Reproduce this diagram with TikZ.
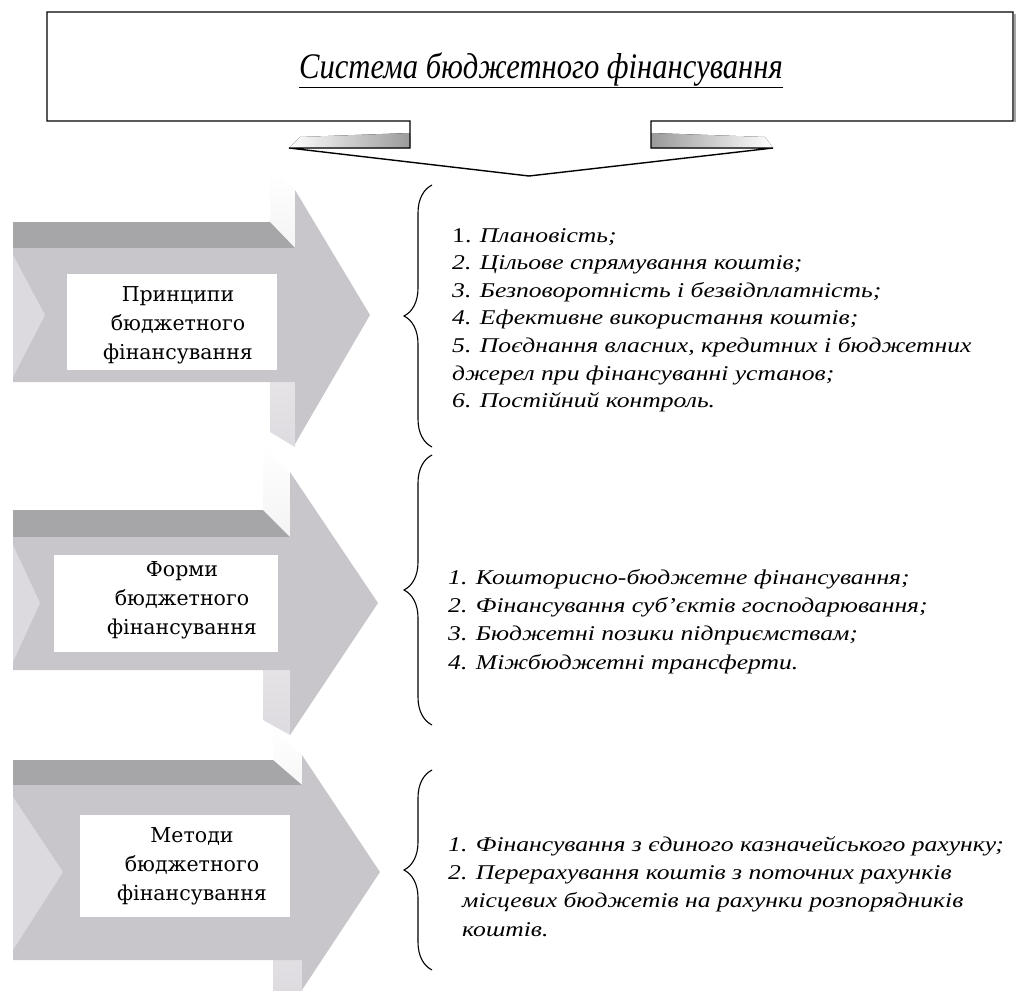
\documentclass[tikz,border=0pt]{standalone}
\usepackage{fontspec}
\setmainfont{Liberation Serif}
\newfontfamily\listfont[FakeStretch=1.22]{Liberation Serif}
\newfontfamily\labelfont{DejaVu Serif}
\newfontfamily\titlefont[FakeStretch=0.85]{Liberation Serif}
\usetikzlibrary{decorations.pathreplacing}
\definecolor{face}{HTML}{C8C6CA}
\definecolor{band}{HTML}{A6A5A8}
\definecolor{strip}{HTML}{DDDBDF}
\definecolor{notchc}{HTML}{DCDADE}
\definecolor{shade}{HTML}{9A9A9A}
\tikzset{
  facefill/.style={fill=face, draw=none},
  bandfill/.style={fill=band, draw=none},
  stripfill/.style={top color=white, bottom color=strip, draw=none},
  notchfill/.style={fill=notchc, draw=none},
  labelbox/.style={fill=white, draw=none},
  label/.style={font=\labelfont\fontsize{20.5}{29}\selectfont, align=center, inner sep=0pt},
  listtext/.style={font=\listfont\itshape\fontsize{21}{27.6}\selectfont, align=left, inner sep=0pt, anchor=north west},
  listtextb/.style={listtext, font=\listfont\itshape\fontsize{21}{28.3}\selectfont},
  bracestyle/.style={decorate, decoration={brace, amplitude=28pt, aspect=0.5}, line width=1.1pt},
}
\begin{document}
\begin{tikzpicture}[x=1pt,y=-1pt]
\useasboundingbox (0,0) rectangle (1018,991);
% ---- title callout ----
\fill[left color=white, right color=shade] (300,137) -- (410,133) -- (410,148) -- (289,148) -- cycle;
\fill[left color=shade, right color=white] (651,133) -- (765,137) -- (773,148) -- (651,148) -- cycle;
\draw[gray!70, line width=1.5pt] (1015,14) -- (1015,122);
\draw[line width=1.4pt, line join=miter] (47,12) -- (1013,12) -- (1013,121) -- (651,121) -- (651,148) -- (773,148) -- (529,176) -- (289,148) -- (410,148) -- (410,121) -- (47,121) -- cycle;
\node[font=\titlefont\itshape\fontsize{36}{40}\selectfont, inner sep=0pt] (title) at (541,70) {\underline{Система бюджетного фінансування}};
% ---- arrow 1 ----
\path[stripfill] (270,168) -- (295,190) -- (295,447) -- (270,432) -- cycle;
\path[bandfill] (13,222) -- (270,222) -- (295,248) -- (13,248) -- cycle;
\path[facefill] (13,248) -- (295,248) -- (295,190) -- (370,315) -- (295,444) -- (295,382) -- (13,382) -- cycle;
\path[notchfill] (13,255) -- (45,315) -- (13,377) -- cycle;
\path[labelbox] (67,274) rectangle (277,370);
\node[label] (a1) at (178,325) {Принципи\\бюджетного\\фінансування};
% ---- arrow 2 ----
\path[stripfill] (263,445) -- (290,472) -- (290,735) -- (263,720) -- cycle;
\path[bandfill] (13,510) -- (263,510) -- (290,537) -- (13,537) -- cycle;
\path[facefill] (13,537) -- (290,537) -- (290,472) -- (378,603) -- (290,735) -- (290,670) -- (13,670) -- cycle;
\path[notchfill] (13,545) -- (40,603) -- (13,662) -- cycle;
\path[labelbox] (54,555) rectangle (278,652);
\node[label] (a2) at (182,600) {Форми\\бюджетного\\фінансування};
% ---- arrow 3 ----
\path[stripfill] (273,727) -- (302,755) -- (302,991) -- (273,991) -- cycle;
\path[bandfill] (13,760) -- (273,760) -- (302,785) -- (13,785) -- cycle;
\path[facefill] (13,785) -- (302,785) -- (302,755) -- (380,872) -- (302,990) -- (302,960) -- (13,960) -- cycle;
\path[notchfill] (13,797) -- (63,872) -- (13,950) -- cycle;
\path[labelbox] (80,815) rectangle (290,917);
\node[label] (a3) at (192,866) {Методи\\бюджетного\\фінансування};
% ---- braces ----
\coordinate (b1s) at (432,447); \coordinate (b1e) at (432,185);
\coordinate (b2s) at (432,725); \coordinate (b2e) at (432,455);
\coordinate (b3s) at (432,970); \coordinate (b3e) at (432,770);
\draw[bracestyle] (b1s) -- (b1e);
\draw[bracestyle] (b2s) -- (b2e);
\draw[bracestyle] (b3s) -- (b3e);
% ---- lists ----
\node[listtext] (l1) at (452,228) {{\upshape 1.} Плановість;\\2. Цільове спрямування коштів;\\3. Безповоротність і безвідплатність;\\4. Ефективне використання коштів;\\5. Поєднання власних, кредитних і бюджетних\\джерел при фінансуванні установ;\\6. Постійний контроль.};
\node[listtextb] (l2) at (448,569) {1. Кошторисно-бюджетне фінансування;\\2. Фінансування суб’єктів господарювання;\\3. Бюджетні позики підприємствам;\\4. Міжбюджетні трансферти.};
\node[listtextb] (l3) at (448,836) {1. Фінансування з єдиного казначейського рахунку;\\2. Перерахування коштів з поточних рахунків\\\hspace*{14pt}місцевих бюджетів на рахунки розпорядників\\\hspace*{14pt}коштів.};
\end{tikzpicture}
\end{document}
